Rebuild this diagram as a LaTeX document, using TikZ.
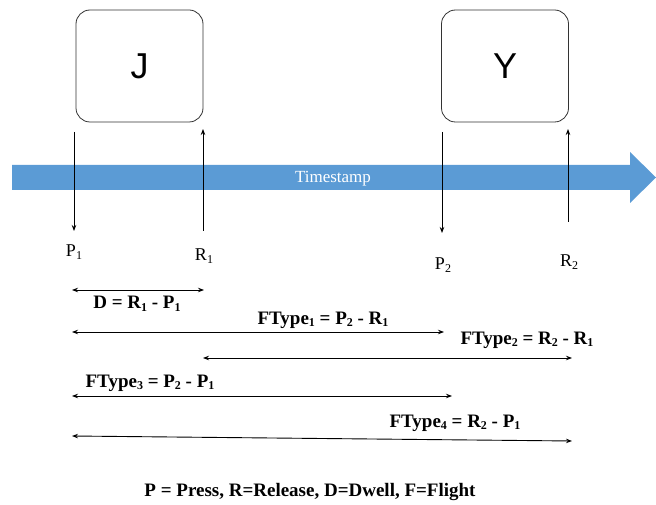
\documentclass[tikz,border=0pt]{standalone}
\usepackage{fontspec}
\setmainfont{Liberation Serif}
\newfontfamily\keyfont{Liberation Sans}
\usetikzlibrary{arrows.meta}
\definecolor{tsblue}{RGB}{91,155,213}
\newcommand{\lowidx}[1]{\raisebox{-0.3ex}{\fontsize{12}{12}\selectfont #1}}
\begin{document}
\begin{tikzpicture}[x=1pt,y=-1pt,
  keybox/.style={draw=black!80, line width=0.8pt, rounded corners=14pt, minimum width=127pt, minimum height=112pt, font=\keyfont\fontsize{36}{36}\selectfont},
  tick/.style={line width=0.9pt, -{Stealth[length=6pt,width=4.5pt]}},
  span/.style={line width=0.9pt, {Stealth[length=6pt,width=4.5pt]}-{Stealth[length=6pt,width=4.5pt]}},
  lbl/.style={font=\bfseries\fontsize{19}{22}\selectfont, inner sep=0pt},
  plbl/.style={font=\fontsize{18}{20}\selectfont, inner sep=0pt}]
\useasboundingbox (0,0) rectangle (656,505);
% keys
\node[keybox] (J) at (139.5,66) {J};
\node[keybox] (Y) at (505,66) {Y};
% timeline
\fill[tsblue] (12,165) -- (630,165) -- (630,152) -- (656,177.5) -- (630,203) -- (630,190) -- (12,190) -- cycle;
\node[text=white, font=\fontsize{17}{20}\selectfont] (ts) at (333,179) {Timestamp};
% tick coordinates
\coordinate (p1t) at (74,132); \coordinate (p1b) at (74,231);
\coordinate (r1t) at (203,129); \coordinate (r1b) at (203,231);
\coordinate (p2t) at (442,132); \coordinate (p2b) at (442,233);
\coordinate (r2t) at (568,129); \coordinate (r2b) at (568,222);
\draw[tick] (p1t) -- (p1b);
\draw[tick] (r1b) -- (r1t);
\draw[tick] (p2t) -- (p2b);
\draw[tick] (r2b) -- (r2t);
\node[plbl] (P1) at (74,252) {P\lowidx{1}};
\node[plbl] (R1) at (204,256) {R\lowidx{1}};
\node[plbl] (P2) at (443,265) {P\lowidx{2}};
\node[plbl] (R2) at (569,262) {R\lowidx{2}};
% spans
\coordinate (da) at (72,290); \coordinate (db) at (204,290);
\draw[span] (da) -- (db);
\node[lbl] (dl) at (137,304) {D = R\lowidx{1} - P\lowidx{1}};
\coordinate (f1a) at (72,332); \coordinate (f1b) at (444,332);
\draw[span] (f1a) -- (f1b);
\node[lbl] (f1l) at (323,320) {FType\lowidx{1} = P\lowidx{2} - R\lowidx{1}};
\coordinate (f2a) at (203,358); \coordinate (f2b) at (572,358);
\draw[span] (f2a) -- (f2b);
\node[lbl] (f2l) at (527,340) {FType\lowidx{2} = R\lowidx{2} - R\lowidx{1}};
\coordinate (f3a) at (72,396); \coordinate (f3b) at (452,396);
\draw[span] (f3a) -- (f3b);
\node[lbl] (f3l) at (150,383) {FType\lowidx{3} = P\lowidx{2} - P\lowidx{1}};
\coordinate (f4a) at (72,436); \coordinate (f4b) at (572,441);
\draw[span] (f4a) -- (f4b);
\node[lbl] (f4l) at (455,423) {FType\lowidx{4} = R\lowidx{2} - P\lowidx{1}};
% legend
\node[lbl] (leg) at (310,492) {P = Press, R=Release, D=Dwell, F=Flight};
\end{tikzpicture}
\end{document}
